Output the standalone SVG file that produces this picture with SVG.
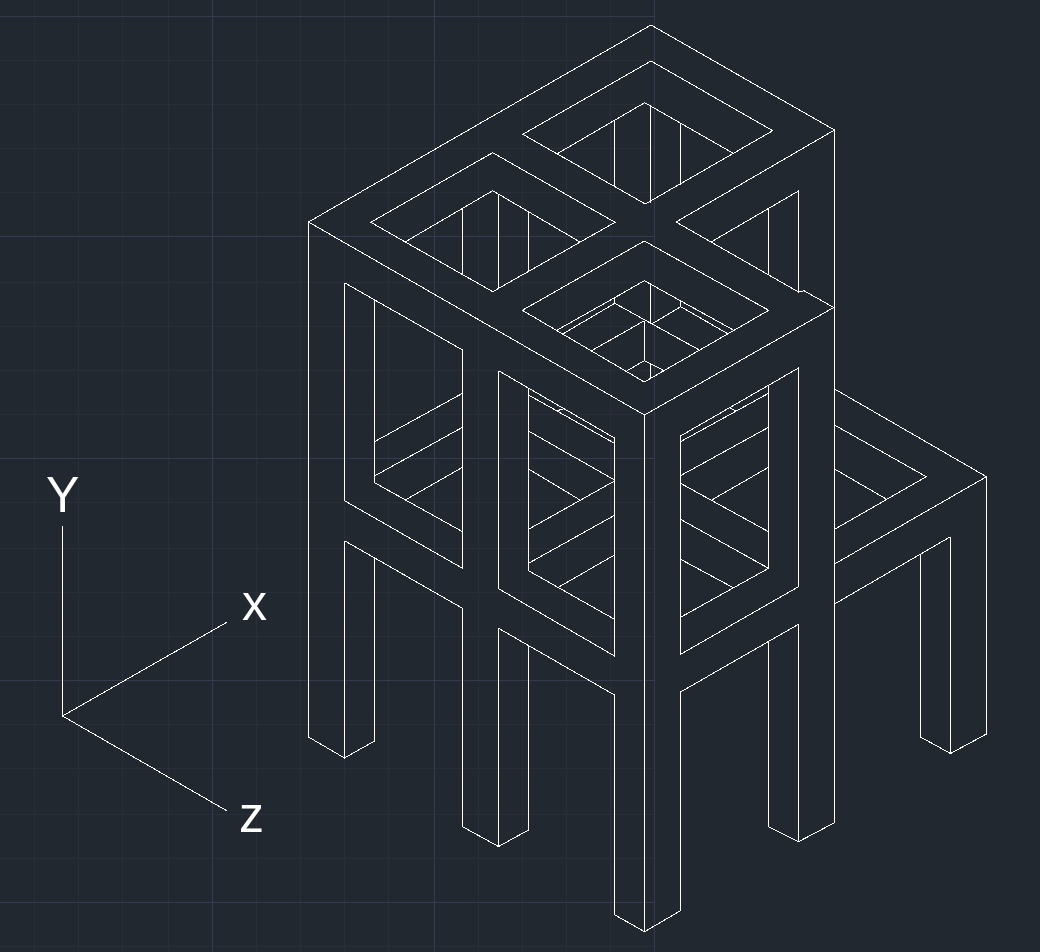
<svg xmlns="http://www.w3.org/2000/svg" width="1040" height="952" viewBox="0 0 1040 952">
<style>
.bg{fill:#222830}
.minor{fill:none;stroke:#292e39;stroke-width:1;shape-rendering:crispEdges}
.major{fill:none;stroke:#363b4b;stroke-width:1;shape-rendering:crispEdges}
.ln{fill:none;stroke:#fff;stroke-width:1;shape-rendering:crispEdges}
.lb{fill:#fff;font-family:"Liberation Sans",Arial,sans-serif;font-size:50px}
</style>
<rect class="bg" width="1040" height="952"/>
<g id="grid">
<path class="minor" d="M0 60.5H655M0 104.5H655M0 148.5H655M0 192.5H655M0 282.5H655M0 326.5H655M0 370.5H655M0 414.5H655M0 502.5H655M0 548.5H655M0 592.5H655M0 636.5H655M0 724.5H655M0 768.5H655M0 814.5H655M0 858.5H655M0 946.5H655M34.5 0V952M78.5 0V952M122.5 0V952M168.5 0V952M256.5 0V952M300.5 0V952M344.5 0V952M388.5 0V952M478.5 0V952M522.5 0V952M566.5 0V952M610.5 0V952"/>
<path class="major" d="M0 16.5H655M0 236.5H655M0 458.5H655M0 680.5H655M0 902.5H655M212.5 0V952M434.5 0V952M654.5 0V952"/>
</g>
<g id="top-face">
<path class="ln" d="M308.5 222L651 25L834.5 130"/>
<path class="ln" d="M308.5 222L644.5 415L834.5 307"/>
<path class="ln" d="M522.7 134.3L651 61L772.7 130.7L645.3 204Z"/>
<path class="ln" d="M556.7 154L644.7 102.7L733.3 153.3M614.5 120V187M650.5 106V203M680.5 122.7V185"/>
<path class="ln" d="M370.7 222.3L492.7 152.7L615 222.3L492.7 291.7Z"/>
<path class="ln" d="M405 242L492.7 190.7L580 242M462.5 207.7V275M498.5 194.3V289M528.5 211.7V271.7"/>
<path class="ln" d="M676 222L834.5 130M676 222L798.5 292L804 290.7L834 307.7"/>
<path class="ln" d="M711 242L798.5 191V292M768.5 208V274.3"/>
</g>
<g id="top-centre-well">
<path class="ln" d="M522.3 310.3L644.3 241L768.7 310.3L644.3 382Z"/>
<path class="ln" d="M557.3 330L614.7 297.7L644.3 280.7L733.3 330"/>
<path class="ln" d="M614.5 297.7V303.3M562.7 334L614.7 303.3L699.3 350M592.3 350.3L644.3 320.7"/>
<path class="ln" d="M651.7 324L680.7 306.7L728.3 334M680.5 301V306.7M650.5 282.7V324M644.5 320.7V360.7"/>
<path class="ln" d="M626.7 371L644.3 360.7L664 370.7M650.5 362.7V379.3"/>
</g>
<g id="left-frame">
<path class="ln" d="M308.5 222V737L344.5 758L374.5 741V558.3"/>
<path class="ln" d="M344.5 282.7V500.7L462.5 568.3V350L344.5 282.7"/>
<path class="ln" d="M374.5 300V482.7L462.5 531.7M374.5 441.7L462.5 393.3M374.5 476L462.5 427.3M405.3 500L462.5 467.3"/>
<path class="ln" d="M344.5 540.7V758M344.5 540.7L462.5 608.3V826.7L498.5 846.5L528.5 830V646"/>
</g>
<g id="middle-frame">
<path class="ln" d="M498.5 370.7V588.7L614.5 656V438L498.5 370.7"/>
<path class="ln" d="M528.5 388.7V570.7L614.5 619.3M528.5 395L614.5 443.3M557.3 410.7L565 408.3"/>
<path class="ln" d="M528.5 431L614.5 480M528.5 469L580 500M528.5 529.3L614.5 481M528.5 563.3L614.5 515.3M558.3 587.3L614.5 555"/>
<path class="ln" d="M498.5 628.3V846.5M498.5 628.3L614.5 695V914.7L644.5 931.7L680.5 910.7V692"/>
</g>
<g id="centre-edge">
<path class="ln" d="M644.5 415.3V931.7"/>
</g>
<g id="right-frame">
<path class="ln" d="M680.5 436L798.5 368V586.7L680.5 654.3V436"/>
<path class="ln" d="M768.5 385V568.3M680.5 441.7L768.5 393.3M727.3 408.3L730 407.7L735.7 411M680.5 475.7L768.5 427.3M711.7 500L768.5 467.3M680.5 483.3L768.5 531.7M680.5 519.3L768.5 568.3M680.5 559.3L733.3 587.7M680.5 617.3L768.5 568.3"/>
<path class="ln" d="M680.5 692L798.5 624.3V841.7L768.5 826.7V641.7M798.5 841.7L834.5 822.7V130"/>
</g>
<g id="back-frame">
<path class="ln" d="M834.5 389L986.5 476.7V734L950.5 753.5L920.5 737V553.7M950.5 536.7V753.5M834.5 604L950.5 536.7"/>
<path class="ln" d="M834.5 564L986.5 476.7M834.5 425L926.3 476.7L834.5 529.3M834.5 469L886.7 499.3"/>
</g>
<g id="axes">
<path class="ln" d="M62.5 526V716L226.7 622.3M62.5 716L226.7 810.7"/>
<text class="lb" x="46" y="512">Y</text>
<text class="lb" x="242" y="620">x</text>
<text class="lb" x="239" y="832">z</text>
</g>
</svg>
